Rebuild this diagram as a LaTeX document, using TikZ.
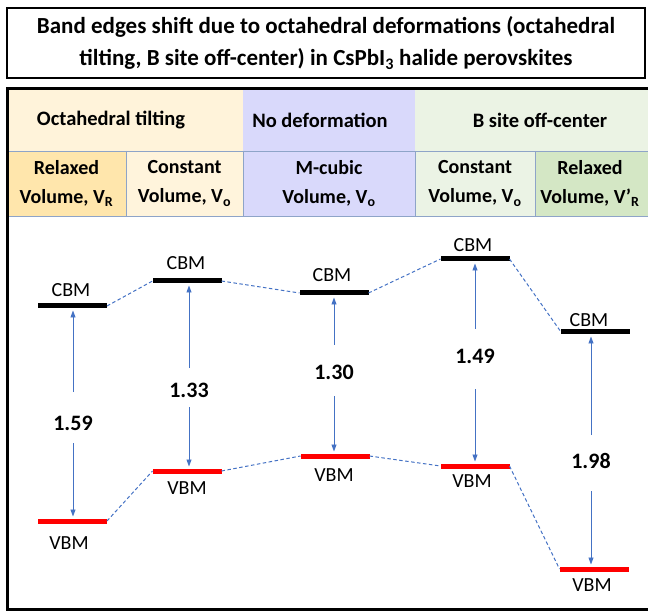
\documentclass[tikz,border=0pt]{standalone}
\usepackage{fontspec}
\setmainfont{Carlito}
\usetikzlibrary{arrows.meta}

\definecolor{tiltband}{HTML}{FFF3DA}
\definecolor{tiltrelax}{HTML}{FFE6AC}
\definecolor{tiltconst}{HTML}{FFF4DC}
\definecolor{nodef}{HTML}{D9D9FB}
\definecolor{offband}{HTML}{EBF3E4}
\definecolor{offconst}{HTML}{EBF3E5}
\definecolor{offrelax}{HTML}{D4E7C5}
\definecolor{gridline}{HTML}{8EA4C8}
\definecolor{gapblue}{HTML}{4472C4}
\definecolor{vbmred}{HTML}{FF0000}

\tikzset{
  cell/.style={inner sep=0pt, align=center, font=\fontsize{20}{29}\selectfont\bfseries},
  grid/.style={draw=gridline, line width=0.8pt},
  bandtext/.style={font=\fontsize{20.5}{22}\selectfont\bfseries, inner sep=0pt},
  cbmbar/.style={fill=black, minimum width=69pt, minimum height=5pt, inner sep=0pt, outer sep=0pt},
  vbmbar/.style={fill=vbmred, minimum width=69pt, minimum height=5pt, inner sep=0pt, outer sep=0pt},
  lvltext/.style={font=\fontsize{20}{22}\selectfont, inner sep=0pt},
  gaptext/.style={font=\fontsize{22}{24}\selectfont\bfseries, inner sep=0pt},
  gaparrow/.style={draw=gapblue, line width=0.9pt, -{Triangle[length=7pt,width=5pt]}},
  link/.style={draw=gapblue, line width=1pt, dash pattern=on 3.5pt off 2.5pt},
}

\begin{document}
\begin{tikzpicture}[x=1pt,y=-1pt]
\useasboundingbox (0,0) rectangle (648,612);

% title box
\node[draw, line width=2.6pt, minimum width=638pt, minimum height=70pt, inner sep=0pt,
      align=center, font=\fontsize{23}{32}\selectfont\bfseries] (title) at (326,43)
  {Band edges shift due to octahedral deformations (octahedral\\
   tilting, B site off-center) in CsPbI\textsubscript{3} halide perovskites};

% header bands
\fill[tiltband] (7,89) rectangle (243,151);
\fill[nodef]    (243,89) rectangle (415,151);
\fill[offband]  (415,89) rectangle (660,151);
\node[bandtext] (h1) at (111,120) {Octahedral tilting};
\node[bandtext] (h2) at (320,120) {No deformation};
\node[bandtext] (h3) at (540,120) {B site off-center};

% sub-header cells: backgrounds, grid, texts
\fill[tiltrelax] (7,151)   rectangle (126,216);
\fill[tiltconst] (126,151) rectangle (243,216);
\fill[nodef]     (243,151) rectangle (415,216);
\fill[offconst]  (415,151) rectangle (535,216);
\fill[offrelax]  (535,151) rectangle (660,216);
\draw[grid] (7,151) -- (660,151) (7,216) -- (660,216)
            (126,151) -- (126,216) (243,151) -- (243,216)
            (415,151) -- (415,216) (535,151) -- (535,216);
\node[cell] (s1) at (66.5,183.5) {Relaxed\\Volume, V\textsubscript{R}};
\node[cell] (s2) at (184.5,183.5) {Constant\\Volume, V\textsubscript{o}};
\node[cell] (s3) at (329,183.5) {M-cubic\\Volume, V\textsubscript{o}};
\node[cell] (s4) at (475,183.5) {Constant\\Volume, V\textsubscript{o}};
\node[cell] (s5) at (590,183.5) {Relaxed\\Volume, V’\textsubscript{R}};

% frame of the level diagram
\draw[line width=3pt] (7,89) rectangle (700,609);

% conduction band minima
\node[cbmbar] (c1) at (72.5,306) {};
\node[cbmbar] (c2) at (187,281) {};
\node[cbmbar] (c3) at (334,293) {};
\node[cbmbar] (c4) at (475,259) {};
\node[cbmbar] (c5) at (595.5,332) {};
% valence band maxima
\node[vbmbar] (v1) at (72.5,521) {};
\node[vbmbar] (v2) at (187,471) {};
\node[vbmbar] (v3) at (335,456) {};
\node[vbmbar] (v4) at (475,466) {};
\node[vbmbar] (v5) at (594,569) {};

% level labels
\node[lvltext] (lc1) at (71,290) {CBM};
\node[lvltext] (lc2) at (186,263) {CBM};
\node[lvltext] (lc3) at (332,275) {CBM};
\node[lvltext] (lc4) at (473,245) {CBM};
\node[lvltext] (lc5) at (589,320) {CBM};
\node[lvltext] (lv1) at (69,543) {VBM};
\node[lvltext] (lv2) at (187,488) {VBM};
\node[lvltext] (lv3) at (334,475) {VBM};
\node[lvltext] (lv4) at (472,481) {VBM};
\node[lvltext] (lv5) at (592,585) {VBM};

% dashed links between neighbouring levels
\draw[link] (c1.east) -- (c2.west);
\draw[link] (c2.east) -- (c3.west);
\draw[link] (c3.east) -- (c4.west);
\draw[link] (c4.east) -- (c5.west);
\draw[link] (v1.east) -- (v2.west);
\draw[link] (v2.east) -- (v3.west);
\draw[link] (v3.east) -- (v4.west);
\draw[link] (v4.east) -- (v5.west);

% band gaps
\node[gaptext] (g1) at (73,423) {1.59};
\node[gaptext] (g2) at (189,390) {1.33};
\node[gaptext] (g3) at (334,372) {1.30};
\node[gaptext] (g4) at (475,356) {1.49};
\node[gaptext] (g5) at (591,461) {1.98};

\coordinate (u1) at (73,392);  \coordinate (d1) at (73,443);
\coordinate (u2) at (189,368); \coordinate (d2) at (189,407);
\coordinate (u3) at (334,345); \coordinate (d3) at (334,396);
\coordinate (u4) at (475,329); \coordinate (d4) at (475,389);
\coordinate (u5) at (591,435); \coordinate (d5) at (591,491);

\draw[gaparrow, shorten >=2pt] (u1) -- (u1 |- c1.south);
\draw[gaparrow, shorten >=2pt] (d1) -- (d1 |- v1.north);
\draw[gaparrow, shorten >=2pt] (u2) -- (u2 |- c2.south);
\draw[gaparrow, shorten >=2pt] (d2) -- (d2 |- v2.north);
\draw[gaparrow, shorten >=2pt] (u3) -- (u3 |- c3.south);
\draw[gaparrow, shorten >=2pt] (d3) -- (d3 |- v3.north);
\draw[gaparrow, shorten >=2pt] (u4) -- (u4 |- c4.south);
\draw[gaparrow, shorten >=2pt] (d4) -- (d4 |- v4.north);
\draw[gaparrow, shorten >=2pt] (u5) -- (u5 |- c5.south);
\draw[gaparrow, shorten >=2pt] (d5) -- (d5 |- v5.north);
\end{tikzpicture}
\end{document}
